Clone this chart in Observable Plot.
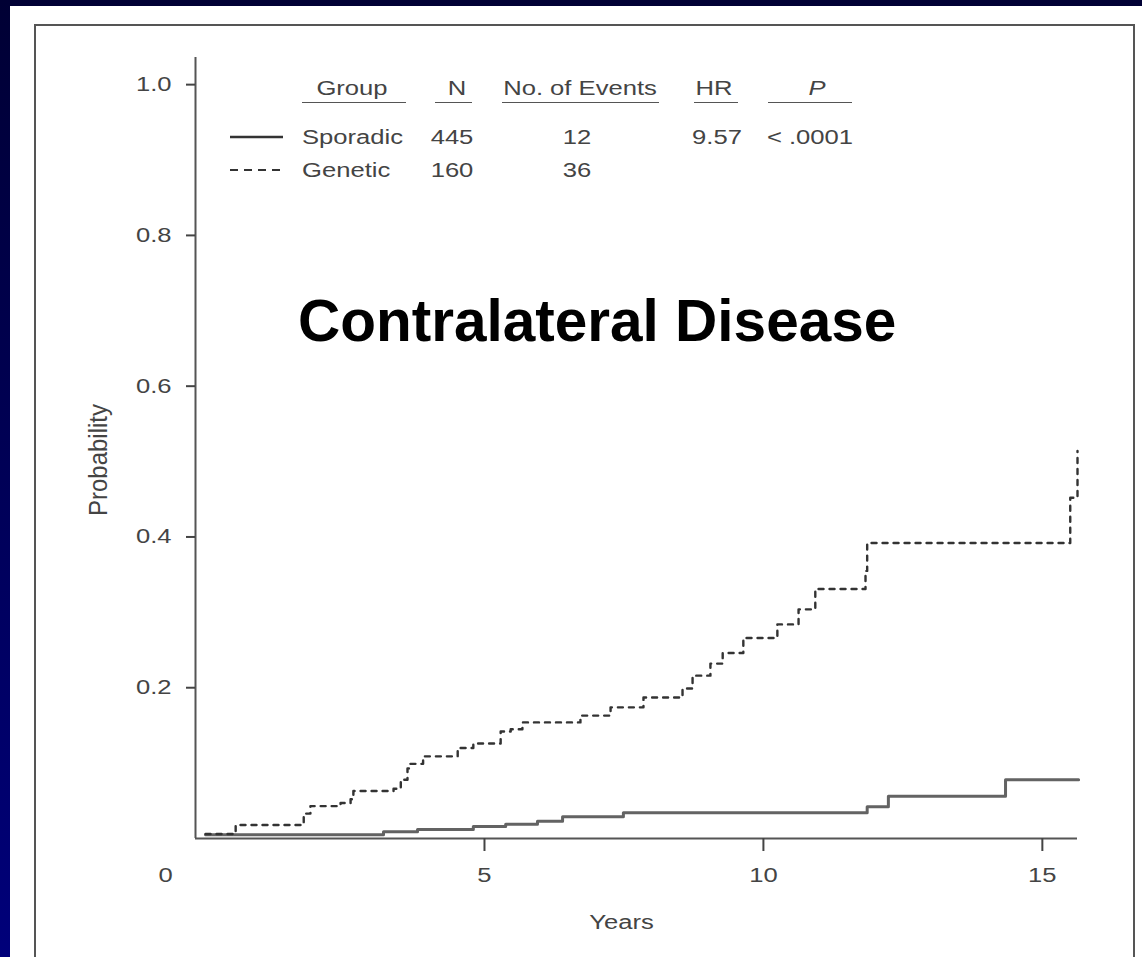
<!DOCTYPE html>
<html>
<head>
<meta charset="utf-8">
<script src="https://cdn.jsdelivr.net/npm/d3@7"></script>
<script src="https://cdn.jsdelivr.net/npm/@observablehq/plot@0.6"></script>
<style>
html,body{margin:0;padding:0;}
body{width:1142px;height:957px;overflow:hidden;position:relative;background:linear-gradient(#000034,#00007a);font-family:"Liberation Sans",Arial,Helvetica,sans-serif;}
#panel{position:absolute;left:10px;top:6px;width:1132px;height:951px;background:#fff;}
#frame{position:absolute;left:34px;top:24px;width:1101px;height:960px;border:2px solid #555;box-sizing:border-box;}
#chart{position:absolute;left:0;top:0;}
.t{position:absolute;font-size:20px;line-height:1;color:#444;white-space:nowrap;}
.l{transform-origin:left center;transform:translateY(-50%) scaleX(1.28);}
.c{transform:translate(-50%,-50%) scaleX(1.28);}
.u{position:absolute;height:0;border-top:1.6px solid #555;}
#title{position:absolute;left:298px;top:321px;transform:translateY(-50%);font-size:58.5px;font-weight:bold;color:#000;line-height:1;white-space:nowrap;}
.sample{position:absolute;}
</style>
</head>
<body>
<div id="panel"></div>
<div id="frame"></div>
<div id="chart"></div>
<div id="legend"></div>
<div id="title">Contralateral Disease</div>
<script>
// ---- data ----
const geneticYears = [0, 0.54, 1.76, 1.88, 2.42, 2.6, 2.65, 3.37, 3.5, 3.62, 3.67, 3.9, 4.52, 4.8, 5.29, 5.47, 5.68, 6.72, 7.26, 7.85, 8.55, 8.73, 9.05, 9.27, 9.64, 10.25, 10.63, 10.93, 11.83, 11.86, 15.5, 15.63];
const geneticProb  = [0.006, 0.018, 0.033, 0.043, 0.047, 0.052, 0.063, 0.066, 0.078, 0.093, 0.099, 0.109, 0.120, 0.126, 0.142, 0.145, 0.154, 0.163, 0.174, 0.187, 0.199, 0.216, 0.232, 0.246, 0.266, 0.284, 0.304, 0.331, 0.355, 0.392, 0.452, 0.514];
const sporadicYears = [0, 3.19, 3.8, 4.8, 5.38, 5.95, 6.4, 7.49, 11.86, 12.24, 14.34, 15.65];
const sporadicProb  = [0.005, 0.009, 0.012, 0.016, 0.019, 0.023, 0.029, 0.034, 0.042, 0.056, 0.078, 0.078];
const yTicks = [0.2, 0.4, 0.6, 0.8, 1.0];
const xTicks = [5, 10, 15];
const originLabel = ["0"];
const xLabel = ["Years"];
const yLabel = ["Probability"];
const tableHeaders = ["Group", "N", "No. of Events", "HR", "P"];
const groups = ["Sporadic", "Genetic"];
const groupN = ["445", "160"];
const groupEvents = ["12", "36"];
const hrValue = "9.57";
const pValue = "< .0001";

const sporadic = sporadicYears.map((t, i) => ({t, p: sporadicProb[i]}));
const genetic = geneticYears.map((t, i) => ({t, p: geneticProb[i]}));

const plot = Plot.plot({
  width: 1142,
  height: 957,
  marginLeft: 195,
  marginRight: 65,
  marginTop: 57,
  marginBottom: 119,
  style: {background: "transparent", fontFamily: "Liberation Sans, Arial, sans-serif", fontSize: "20px", overflow: "visible"},
  x: {domain: [-0.18, 15.63]},
  y: {domain: [0, 1.036]},
  marks: [
    Plot.ruleX([-0.18], {stroke: "#555", strokeWidth: 2}),
    Plot.ruleY([0], {stroke: "#555", strokeWidth: 2}),
    Plot.axisY({ticks: yTicks, tickFormat: d => d.toFixed(1), tickSize: 9, tickPadding: 15, color: "#444", strokeWidth: 2, fontSize: 20, label: null}),
    Plot.axisX({ticks: xTicks, tickSize: 13, tickPadding: 16, color: "#444", strokeWidth: 2, fontSize: 20, label: null}),
    Plot.line(sporadic, {x: "t", y: "p", curve: "step-after", stroke: "#636363", strokeWidth: 3}),
    Plot.line(genetic, {x: "t", y: "p", curve: "step-after", stroke: "#333", strokeWidth: 2.4, strokeDasharray: "5,6"}),
    Plot.text(originLabel, {text: d => d, frameAnchor: "bottom-left", textAnchor: "middle", lineAnchor: "middle", dx: -30, dy: 37, fill: "#444", fontSize: 20}),
    Plot.text(xLabel, {text: d => d, frameAnchor: "bottom", textAnchor: "middle", lineAnchor: "middle", dx: -15, dy: 84, fill: "#444", fontSize: 20}),
    Plot.text(yLabel, {text: d => d, frameAnchor: "left", textAnchor: "middle", lineAnchor: "middle", rotate: -90, dx: -97, dy: 12, fill: "#444", fontSize: 24})
  ]
});
document.getElementById("chart").appendChild(plot);

// emulate the horizontally stretched lettering of the original figure
d3.select(plot).selectAll("text").each(function() {
  const tr = this.getAttribute("transform") || "";
  if (tr.includes("rotate")) this.setAttribute("transform", tr + " scale(1,1.1)");
  else this.setAttribute("transform", tr + " scale(1.28,1)");
});

// ---- legend table ----
const legend = document.getElementById("legend");
function addText(txt, x, y, cls, extra) {
  const d = document.createElement("div");
  d.className = "t " + cls;
  d.style.left = x + "px";
  d.style.top = y + "px";
  if (extra) Object.assign(d.style, extra);
  d.textContent = txt;
  legend.appendChild(d);
}
function addRule(x1, x2, y) {
  const d = document.createElement("div");
  d.className = "u";
  d.style.left = x1 + "px";
  d.style.width = (x2 - x1) + "px";
  d.style.top = y + "px";
  legend.appendChild(d);
}
function addSample(y, dashed) {
  const ns = "http://www.w3.org/2000/svg";
  const s = document.createElementNS(ns, "svg");
  s.setAttribute("class", "sample");
  s.setAttribute("width", 56);
  s.setAttribute("height", 6);
  s.style.left = "229px";
  s.style.top = (y - 3) + "px";
  const ln = document.createElementNS(ns, "line");
  ln.setAttribute("x1", 1); ln.setAttribute("x2", 54);
  ln.setAttribute("y1", 3); ln.setAttribute("y2", 3);
  ln.setAttribute("stroke", "#333");
  ln.setAttribute("stroke-width", dashed ? 2 : 2.6);
  if (dashed) ln.setAttribute("stroke-dasharray", "8,6");
  s.appendChild(ln);
  legend.appendChild(s);
}
const hy = 88, uy = 102, r1 = 137, r2 = 170;
addText(tableHeaders[0], 352, hy, "c");
addRule(302, 406, uy);
addText(tableHeaders[1], 457, hy, "c");
addRule(435, 472, uy);
addText(tableHeaders[2], 580, hy, "c");
addRule(502, 659, uy);
addText(tableHeaders[3], 714, hy, "c");
addRule(694, 738, uy);
addText(tableHeaders[4], 817, hy, "c", {fontStyle: "italic"});
addRule(768, 852, uy);

addSample(r1, false);
addSample(r2, true);
addText(groups[0], 302, r1, "l");
addText(groups[1], 302, r2, "l");
addText(groupN[0], 452, r1, "c");
addText(groupN[1], 452, r2, "c");
addText(groupEvents[0], 577, r1, "c");
addText(groupEvents[1], 577, r2, "c");
addText(hrValue, 717, r1, "c");
addText(pValue, 810, r1, "c");
</script>
</body>
</html>
